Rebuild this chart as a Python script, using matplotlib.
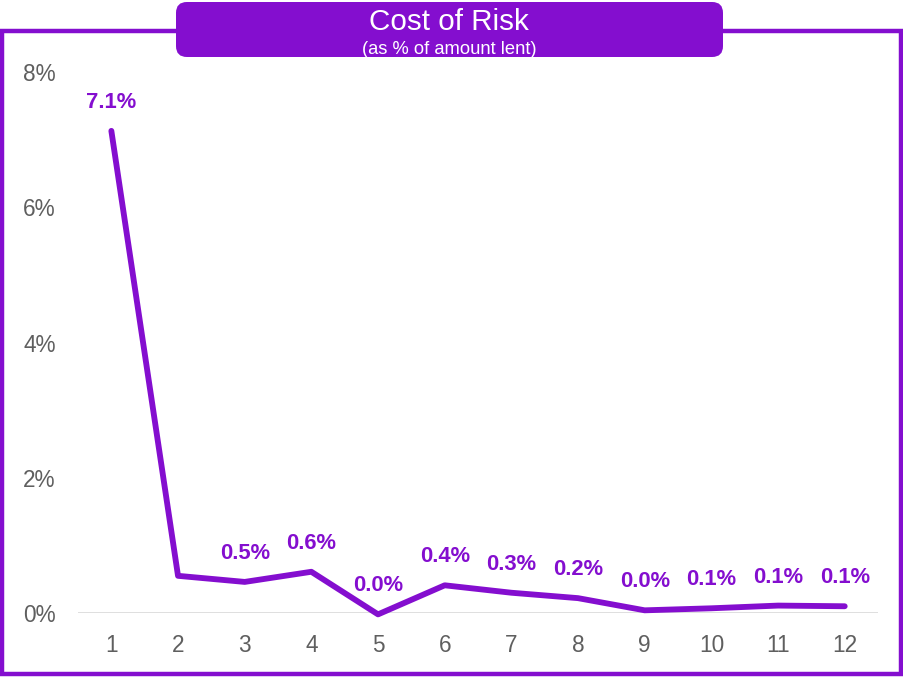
import matplotlib.pyplot as plt
from matplotlib.patches import FancyBboxPatch, Rectangle

plt.rcParams['font.family'] = ['Liberation Sans', 'DejaVu Sans']

# Cost of risk per period, % of amount lent
periods = [1, 2, 3, 4, 5, 6, 7, 8, 9, 10, 11, 12]
cost_of_risk = [7.13, 0.55, 0.46, 0.61, -0.02, 0.41, 0.30, 0.22, 0.04, 0.07, 0.11, 0.10]
show_label = [True, False, True, True, True, True, True, True, True, True, True, True]
y_ticks = [0, 2, 4, 6, 8]

purple = '#840ECF'
grey_text = '#5f5f5f'

fig = plt.figure(figsize=(9.04, 6.77), dpi=100)
ax = fig.add_axes([0.0863, 0.0945, 0.8850, 0.7991])

ax.plot(periods, cost_of_risk, color=purple, lw=4.2, solid_capstyle='round',
        solid_joinstyle='round', clip_on=False, zorder=3)

for x, v, show in zip(periods, cost_of_risk, show_label):
    if not show:
        continue
    txt = f'{v:.1f}%'
    if txt.startswith('-0.0'):
        txt = txt[1:]
    ax.annotate(txt, (x, v), xytext=(0, 20.5), textcoords='offset points',
                ha='center', va='center', fontsize=15.8, fontweight='bold',
                color=purple, annotation_clip=False)

ax.set_xlim(0.5, 12.5)
ax.set_ylim(0, 8)
ax.set_xticks(periods)
ax.set_yticks(y_ticks)
ax.set_yticklabels([f'{t}%' for t in y_ticks])
ax.tick_params(axis='both', length=0, labelsize=16.3, labelcolor=grey_text)
ax.tick_params(axis='x', pad=15)
ax.tick_params(axis='y', pad=16)
ax.axhline(0, color='#d9d9d9', lw=1.2, zorder=1)
for s in ax.spines.values():
    s.set_visible(False)

# outer frame and title banner
fig.patches.append(Rectangle((2 / 904, 3 / 677), 899 / 904, 643 / 677,
                             transform=fig.transFigure, fill=False,
                             edgecolor=purple, lw=3.2, zorder=0))
fig.patches.append(FancyBboxPatch((176 / 904, 1 - 57 / 677), 547 / 904, 55 / 677,
                                  boxstyle='round,pad=0,rounding_size=0.012',
                                  transform=fig.transFigure, facecolor=purple,
                                  edgecolor='none', zorder=1, mutation_aspect=904 / 677))
fig.text(0.4967, 1 - 22 / 677, 'Cost of Risk', ha='center', va='center',
         fontsize=21.3, color='white', zorder=2)
fig.text(0.4967, 1 - 49 / 677, '(as % of amount lent)', ha='center', va='center',
         fontsize=13.2, color='white', zorder=2)

fig.savefig('out.png', dpi=100)
